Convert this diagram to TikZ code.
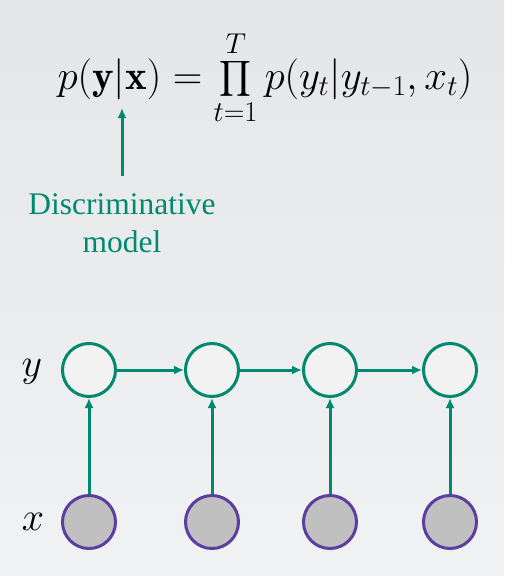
\RequirePackage{fix-cm}
\documentclass[tikz,border=0pt]{standalone}
\usepackage{amsmath}
\usepackage{fontspec}
\newfontfamily\labelfont{Liberation Serif}
\usetikzlibrary{arrows.meta}
\definecolor{bgtop}{RGB}{228,230,232}
\definecolor{bgbottom}{RGB}{241,242,243}
\definecolor{discgreen}{RGB}{0,137,110}
\definecolor{obspurple}{RGB}{91,62,160}
\definecolor{obsfill}{RGB}{192,192,192}
\definecolor{hidfill}{RGB}{242,242,242}

\begin{document}
\begin{tikzpicture}[x=1pt,y=-1pt,
  hidden/.style={circle,draw=discgreen,fill=hidfill,line width=3pt,minimum size=53pt,inner sep=0pt},
  observed/.style={circle,draw=obspurple,fill=obsfill,line width=3pt,minimum size=53pt,inner sep=0pt},
  edge/.style={draw=discgreen,line width=3pt,-{Latex[length=10pt,width=9pt]}}]
\shade[top color=bgtop,bottom color=bgbottom] (0,0) rectangle (504,576);
% formula and its label
\node[anchor=base,inner sep=0pt] (eq) at (265,89) {\fontsize{41}{48}\selectfont $\displaystyle p(\mathbf{y}|\mathbf{x}) = \prod_{t=1}^{T} p(y_t|y_{t-1},x_t)$};
\coordinate (eqbar) at (122,108);
\node[text=discgreen,align=center,inner xsep=0pt,inner ysep=17pt,font=\labelfont\fontsize{31.5}{38}\selectfont] (disc) at (122,223) {Discriminative\\model};
\draw[edge] (disc.north) -- (eqbar);
% chain
\node (ylab) at (32,372) {\fontsize{40}{44}\selectfont $y$};
\node (xlab) at (33,522) {\fontsize{40}{44}\selectfont $x$};
\node[hidden] (y1) at (89,370) {};
\node[hidden] (y2) at (212,370) {};
\node[hidden] (y3) at (330,370) {};
\node[hidden] (y4) at (450,370) {};
\node[observed] (x1) at (89,522) {};
\node[observed] (x2) at (212,522) {};
\node[observed] (x3) at (330,522) {};
\node[observed] (x4) at (450,522) {};
\draw[edge] (y1) -- (y2);
\draw[edge] (y2) -- (y3);
\draw[edge] (y3) -- (y4);
\draw[edge] (x1) -- (y1);
\draw[edge] (x2) -- (y2);
\draw[edge] (x3) -- (y3);
\draw[edge] (x4) -- (y4);
\end{tikzpicture}
\end{document}
